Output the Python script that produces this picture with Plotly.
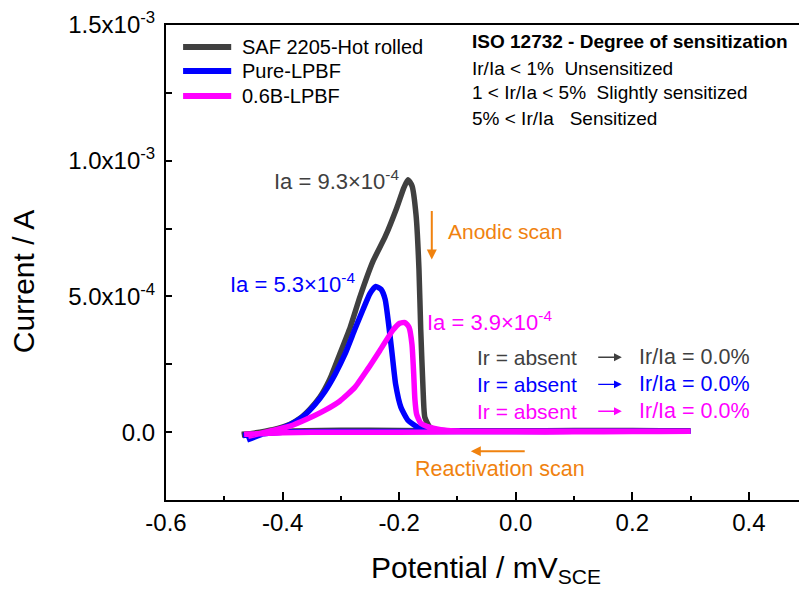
import plotly.graph_objects as go

# ---------------- data ----------------
saf_x = [-0.470, -0.439, -0.413, -0.387, -0.370, -0.353, -0.336, -0.319, -0.302, -0.284,
         -0.267, -0.245, -0.224, -0.204, -0.192, -0.185, -0.178, -0.171, -0.166, -0.163,
         -0.159, -0.156, -0.147, -0.130, -0.096, 0.0, 0.1, 0.2, 0.3,
         0.2, 0.1, 0.0, -0.1, -0.2, -0.3, -0.4, -0.470]
saf_y = [-1.1e-5, 0.0, 1.1e-5, 2.9e-5, 5.1e-5, 8.5e-5, 1.29e-4, 1.95e-4, 2.87e-4, 3.86e-4,
         5.0e-4, 6.29e-4, 7.2e-4, 8.27e-4, 9.0e-4, 9.3e-4, 9.08e-4, 8.0e-4, 6.0e-4, 3.79e-4,
         1.58e-4, 5.5e-5, 1.8e-5, 7e-6, 4e-6, 4e-6, 5e-6, 5e-6, 5e-6,
         6e-6, 6e-6, 5e-6, 5e-6, 6e-6, 7e-6, 3e-6, -8e-6]

pure_x = [-0.461, -0.430, -0.405, -0.379, -0.362, -0.344, -0.327, -0.310, -0.293, -0.276,
          -0.262, -0.250, -0.240, -0.231, -0.224, -0.218, -0.212, -0.206, -0.197, -0.185,
          -0.168, -0.147, -0.113, 0.0, 0.1, 0.2, 0.3,
          0.2, 0.1, 0.0, -0.1, -0.2, -0.3, -0.4, -0.468]
pure_y = [-2.9e-5, -4e-6, 1.1e-5, 3.7e-5, 6.3e-5, 1.03e-4, 1.51e-4, 2.13e-4, 2.87e-4, 3.79e-4,
          4.52e-4, 5.11e-4, 5.37e-4, 5.26e-4, 4.89e-4, 3.97e-4, 2.87e-4, 1.76e-4, 9.2e-5, 4.4e-5,
          1.8e-5, 7e-6, 4e-6, 3e-6, 3e-6, 3e-6, 3e-6,
          3e-6, 3e-6, 2e-6, 2e-6, 2e-6, 2e-6, 0.0, -1.2e-5]

b06_x = [-0.459, -0.422, -0.387, -0.358, -0.327, -0.302, -0.276, -0.254, -0.233, -0.211,
         -0.199, -0.190, -0.183, -0.178, -0.175, -0.173, -0.170, -0.163, -0.147, -0.121,
         -0.096, 0.0, 0.1, 0.2, 0.3,
         0.2, 0.1, 0.0, -0.1, -0.2, -0.3, -0.4, -0.466]
b06_y = [-1.5e-5, 4e-6, 2.2e-5, 4.8e-5, 8.1e-5, 1.14e-4, 1.65e-4, 2.32e-4, 3.01e-4, 3.75e-4,
         4.01e-4, 4.04e-4, 3.86e-4, 3.23e-4, 2.13e-4, 1.21e-4, 6.6e-5, 3.3e-5, 1.8e-5, 7e-6,
         4e-6, 3e-6, 3e-6, 3e-6, 3e-6,
         2e-6, 1e-6, 1e-6, 1e-6, 0.0, 0.0, -2e-6, -8e-6]

series_names = ["SAF 2205-Hot rolled", "Pure-LPBF", "0.6B-LPBF"]
series_colors = ["#404040", "#0000FF", "#FF00FF"]
ia_labels = ["Ia = 9.3\u00d710<sup>-4</sup>", "Ia = 5.3\u00d710<sup>-4</sup>", "Ia = 3.9\u00d710<sup>-4</sup>"]

y_tickvals = [0.0, 5e-4, 1e-3, 1.5e-3]
y_ticktext = ["0.0", "5.0x10<sup>-4</sup>", "1.0x10<sup>-3</sup>", "1.5x10<sup>-3</sup>"]
x_tickvals = [-0.6, -0.4, -0.2, 0.0, 0.2, 0.4]
x_ticktext = ["-0.6", "-0.4", "-0.2", "0.0", "0.2", "0.4"]

FONT = "Liberation Sans, Arial, sans-serif"
ORANGE = "#F0820F"

fig = go.Figure()
for xs, ys, name, col in zip([saf_x, pure_x, b06_x], [saf_y, pure_y, b06_y], series_names, series_colors):
    fig.add_trace(go.Scatter(x=xs, y=ys, mode="lines", name=name, showlegend=False,
                             line=dict(color=col, width=5.5, shape="spline", smoothing=0.5)))

ann = []
shapes = []
# manual legend (line samples + real text)
leg_y = [0.9537, 0.9032, 0.8505]
for name, col, yy in zip(series_names, series_colors, leg_y):
    shapes.append(dict(type="line", xref="paper", yref="paper", x0=0.027, x1=0.103, y0=yy, y1=yy,
                       line=dict(color=col, width=6)))
    ann.append(dict(x=0.1169, y=yy, xref="paper", yref="paper", text=name, showarrow=False,
                    xanchor="left", yanchor="middle", font=dict(size=20, color="black", family=FONT)))
# Ia labels
ann.append(dict(x=-0.418, y=9.3e-4, xref="x", yref="y", text=ia_labels[0], showarrow=False,
                xanchor="left", yanchor="middle", font=dict(size=22, color="#404040", family=FONT)))
ann.append(dict(x=-0.494, y=5.5e-4, xref="x", yref="y", text=ia_labels[1], showarrow=False,
                xanchor="left", yanchor="middle", font=dict(size=22, color="#0000FF", family=FONT)))
ann.append(dict(x=-0.156, y=4.08e-4, xref="x", yref="y", text=ia_labels[2], showarrow=False,
                xanchor="left", yanchor="middle", font=dict(size=22, color="#FF00FF", family=FONT)))
# scan direction labels and arrows
ann.append(dict(x=-0.120, y=7.39e-4, xref="x", yref="y", text="Anodic scan", showarrow=False,
                xanchor="left", yanchor="middle", font=dict(size=21, color=ORANGE, family=FONT)))
ann.append(dict(x=-0.144, y=6.36e-4, ax=-0.144, ay=8.2e-4, xref="x", yref="y", axref="x", ayref="y",
                text="", showarrow=True, arrowhead=2, arrowsize=1, arrowwidth=2, arrowcolor=ORANGE))
ann.append(dict(x=-0.027, y=-1.36e-4, xref="x", yref="y", text="Reactivation scan", showarrow=False,
                xanchor="center", yanchor="middle", font=dict(size=21.5, color=ORANGE, family=FONT)))
ann.append(dict(x=-0.077, y=-7e-5, ax=0.018, ay=-7e-5, xref="x", yref="y", axref="x", ayref="y",
                text="", showarrow=True, arrowhead=2, arrowsize=1, arrowwidth=2, arrowcolor=ORANGE))
# Ir rows
row_y = [2.76e-4, 1.76e-4, 0.77e-4]
for yy, col in zip(row_y, series_colors):
    ann.append(dict(x=-0.070, y=yy, xref="x", yref="y", text="Ir = absent", showarrow=False,
                    xanchor="left", yanchor="middle", font=dict(size=21, color=col, family=FONT)))
    ann.append(dict(x=0.182, y=yy, ax=0.139, ay=yy, xref="x", yref="y", axref="x", ayref="y",
                    text="", showarrow=True, arrowhead=2, arrowsize=1.2, arrowwidth=1.3, arrowcolor=col))
    ann.append(dict(x=0.208, y=yy, xref="x", yref="y", text="Ir/Ia = 0.0%", showarrow=False,
                    xanchor="left", yanchor="middle", font=dict(size=21.5, color=col, family=FONT)))
# ISO box
iso_lines = ["<b>ISO 12732 - Degree of sensitization</b>",
             "Ir/Ia < 1%\u00a0\u00a0Unsensitized",
             "1 < Ir/Ia < 5%\u00a0\u00a0Slightly sensitized",
             "5% < Ir/Ia\u00a0\u00a0\u00a0Sensitized"]
iso_y = [0.966, 0.909, 0.857, 0.804]
for t, yy in zip(iso_lines, iso_y):
    ann.append(dict(x=0.480, y=yy, xref="paper", yref="paper", text=t, showarrow=False,
                    xanchor="left", yanchor="middle", font=dict(size=19, color="black", family=FONT)))
# axis titles
ann.append(dict(x=-0.224, y=0.459, xref="paper", yref="paper", text="Current / A", showarrow=False,
                textangle=-90, xanchor="center", yanchor="middle", font=dict(size=30, color="black", family=FONT)))
ann.append(dict(x=0.506, y=-0.147, xref="paper", yref="paper", text="Potential / mV<sub>SCE</sub>",
                showarrow=False, xanchor="center", yanchor="middle", font=dict(size=30, color="black", family=FONT)))

fig.update_layout(
    width=799, height=591,
    margin=dict(l=166, r=0, t=25, b=91),
    plot_bgcolor="white", paper_bgcolor="white",
    font=dict(family=FONT, color="black"),
    showlegend=False,
    annotations=ann,
    shapes=shapes,
)
fig.update_xaxes(range=[-0.6, 0.486], tickvals=x_tickvals, ticktext=x_ticktext,
                 ticks="inside", ticklen=8, tickwidth=1.5, tickcolor="black",
                 minor=dict(dtick=0.1, ticks="inside", ticklen=4, tickwidth=1.5, tickcolor="black"),
                 showline=True, linecolor="black", linewidth=2, mirror=True,
                 showgrid=False, zeroline=False, tickfont=dict(size=24, color="black", family=FONT))
fig.update_yaxes(range=[-2.5e-4, 1.5e-3], tickvals=y_tickvals, ticktext=y_ticktext,
                 ticks="inside", ticklen=6, tickwidth=1.5, tickcolor="black",
                 minor=dict(dtick=2.5e-4, tick0=0, ticks="inside", ticklen=6, tickwidth=1.5, tickcolor="black"),
                 showline=True, linecolor="black", linewidth=2, mirror=False,
                 showgrid=False, zeroline=False, tickfont=dict(size=24, color="black", family=FONT),
                 ticklabelstandoff=4)

fig.write_html("out.html")
